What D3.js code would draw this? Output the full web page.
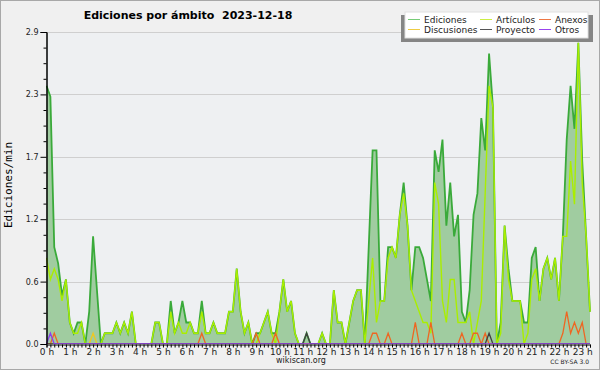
<!DOCTYPE html>
<html>
<head>
<meta charset="utf-8">
<script src="https://cdn.jsdelivr.net/npm/d3@7"></script>
<style>
  body { margin: 0; background: #f0f0f0; }
  svg { display: block; font-family: "DejaVu Sans", sans-serif; }
</style>
</head>
<body>
<svg width="600" height="370"></svg>
<script>
// edits per minute, one value every 10 minutes (00:00 .. 23:20)
var ediciones = [
  2.4, 2.3, 0.9, 0.75, 0.45, 0.6, 0.2, 0.1, 0.2, 0.2,
  0, 0.3, 1.0, 0.5, 0, 0.1, 0.1, 0.1, 0.2, 0.1,
  0.2, 0.1, 0.3, 0, 0, 0, 0, 0, 0.2, 0.2,
  0, 0, 0.4, 0.1, 0.2, 0.4, 0.2, 0.2, 0.1, 0.1,
  0.4, 0.1, 0.1, 0.2, 0.1, 0.1, 0.1, 0.3, 0.3, 0.7,
  0.3, 0.1, 0.2, 0, 0.1, 0.1, 0.2, 0.3, 0.1, 0.1,
  0.3, 0.6, 0.3, 0.4, 0.1, 0, 0, 0.1, 0, 0,
  0, 0.1, 0, 0, 0.5, 0.2, 0.2, 0, 0.2, 0.4,
  0.5, 0.5, 0, 0.9, 1.8, 1.8, 0.4, 0.4, 0.9, 0.9,
  0.8, 1.2, 1.5, 1.1, 0.5, 0.9, 0.9, 0.8, 0.6, 0.4,
  1.8, 1.6, 1.9, 1.1, 1.5, 1.0, 1.2, 0.3, 0.2, 0.5,
  1.2, 1.4, 2.1, 1.8, 2.7, 2.2, 0, 0.2, 1.1, 0.7,
  0.4, 0.4, 0.4, 0.2, 0.2, 0.8, 0.9, 0.4, 0.7, 0.8,
  0.6, 0.8, 0.4, 1.0, 1.9, 2.4, 2.0, 2.8, 1.7, 1.0,
  0.3
];
var articulos = [
  0.8, 0.6, 0.7, 0.6, 0.4, 0.6, 0.2, 0.1, 0.1, 0.2,
  0, 0, 0, 0, 0, 0.1, 0.1, 0.1, 0.2, 0.1,
  0.2, 0.1, 0.3, 0, 0, 0, 0, 0, 0.2, 0.2,
  0, 0, 0.3, 0.1, 0.2, 0.1, 0.1, 0.2, 0.1, 0.1,
  0.3, 0.1, 0.1, 0.2, 0.1, 0.1, 0.1, 0.3, 0.3, 0.7,
  0.3, 0.1, 0.2, 0, 0, 0.1, 0.2, 0.3, 0.1, 0,
  0.3, 0.6, 0.3, 0.4, 0.1, 0, 0, 0, 0, 0,
  0, 0.1, 0, 0, 0.5, 0.2, 0.2, 0, 0.2, 0.4,
  0.5, 0.5, 0, 0.4, 0.8, 0.2, 0.4, 0.4, 0.8, 0.9,
  0.8, 1.2, 1.4, 1.1, 0.5, 0.4, 0.3, 0.2, 0.2, 0.1,
  1.5, 1.3, 0.4, 0.2, 0.6, 0.6, 0.2, 0.2, 0.2, 0.3,
  0, 0.2, 0.4, 1.4, 2.4, 2.2, 0, 0.1, 1.1, 0.6,
  0.4, 0.4, 0.4, 0, 0.1, 0.6, 0.7, 0.4, 0.7, 0.8,
  0.6, 0.8, 0.4, 1.0, 1.0, 1.7, 1.3, 2.8, 1.5, 1.0,
  0.3
];
// small series: only the non-zero slots [index, value]
var anexos = [[2, 0.1], [40, 0.1], [54, 0.1], [59, 0.1], [84, 0.1], [85, 0.1], [88, 0.1],
  [95, 0.2], [99, 0.2], [107, 0.1], [110, 0.1], [111, 0.1], [113, 0.1],
  [133, 0.1], [134, 0.3], [135, 0.1], [136, 0.2], [137, 0.1], [138, 0.2]];
var discusiones = [[12, 0.1]];
var proyecto = [[67, 0.1], [114, 0.1]];
var otros = [[1, 0.1]];

var yTicks = [0, 0.58, 1.16, 1.74, 2.32, 2.9];
var yTickLabels = ['0.0', '0.6', '1.2', '1.7', '2.3', '2.9'];
var hourLabels = d3.range(24).map(function(h) { return h + ' h'; });

var N = ediciones.length;

var expand = function(pairs) {
  var arr = d3.range(N).map(function() { return 0; });
  pairs.forEach(function(p) { arr[p[0]] = p[1]; });
  return arr;
};

var svg = d3.select('svg');

svg.append('rect').attr('x', 0.5).attr('y', 0.5).attr('width', 599).attr('height', 369)
  .attr('fill', '#f0f0f0').attr('stroke', '#a8a8a8');

var x = d3.scaleLinear().domain([0, N - 1]).range([46.5, 590]);
var y = d3.scaleLinear().domain([0, 2.9]).range([344, 32]);

svg.append('rect').attr('x', 46).attr('y', 32).attr('width', 544).attr('height', 312)
  .attr('fill', '#eef0f2');

// grid
svg.append('g').selectAll('line').data(yTicks.slice(1)).enter().append('line')
  .attr('x1', 46).attr('x2', 590)
  .attr('y1', function(d) { return Math.round(y(d)) + 0.5; })
  .attr('y2', function(d) { return Math.round(y(d)) + 0.5; })
  .attr('stroke', '#cfcfcf').attr('stroke-width', 1);

svg.append('clipPath').attr('id', 'plot').append('rect')
  .attr('x', 46).attr('y', 20).attr('width', 546).attr('height', 324);

var plot = svg.append('g').attr('clip-path', 'url(#plot)');

var area = d3.area()
  .x(function(d, i) { return x(i); })
  .y0(y(0))
  .y1(function(d) { return y(d); });

var line = d3.line()
  .x(function(d, i) { return x(i); })
  .y(function(d) { return y(d); });

plot.append('path').datum(ediciones).attr('d', area).attr('fill', '#a0cca0');
plot.append('path').datum(ediciones).attr('d', line)
  .attr('fill', 'none').attr('stroke', '#3aaa3a').attr('stroke-width', 1.8);
plot.append('path').datum(articulos).attr('d', line)
  .attr('fill', 'none').attr('stroke', '#aaee00').attr('stroke-width', 1.4);

var small = [
  { data: expand(discusiones), color: '#eec820' },
  { data: expand(anexos), color: '#ee6622' },
  { data: expand(proyecto), color: '#404040' },
  { data: expand(otros), color: '#8a3cf0' }
];
small.forEach(function(s) {
  plot.append('path').datum(s.data).attr('d', line)
    .attr('fill', 'none').attr('stroke', s.color).attr('stroke-width', 1.3);
});

// y axis, major then minor ticks
var yAxis = svg.append('g').attr('transform', 'translate(46.5,0)')
  .call(d3.axisLeft(y).tickValues(yTicks)
    .tickFormat(function(d, i) { return yTickLabels[i]; })
    .tickSize(6).tickPadding(2));
var minor = d3.range(0, 20).map(function(k) { return k * 0.145; }).filter(function(v, k) { return k % 4 !== 0; });
svg.append('g').attr('transform', 'translate(46.5,0)')
  .call(d3.axisLeft(y).tickValues(minor).tickFormat('').tickSize(3));

// x axis: a tick every 10 min, a label every hour
var xAxis = svg.append('g').attr('transform', 'translate(0,344.5)')
  .call(d3.axisBottom(x).tickValues(d3.range(N))
    .tickFormat(function(d) { return d % 6 === 0 ? hourLabels[d / 6] : ''; })
    .tickSize(3).tickPadding(1));

svg.selectAll('.domain').attr('stroke', '#000').attr('stroke-width', 1);
svg.selectAll('.tick line').attr('stroke', '#000');
yAxis.selectAll('text').attr('font-size', 8).attr('fill', '#222').attr('font-family', '"DejaVu Sans"');
xAxis.selectAll('text').attr('font-size', 9).attr('fill', '#222').attr('font-family', '"DejaVu Sans"');

// titles
svg.append('text').attr('x', 188).attr('y', 19).attr('text-anchor', 'middle')
  .style('white-space', 'pre')
  .attr('font-size', 11).attr('font-weight', 'bold').text('Ediciones por ámbito  2023-12-18');

svg.append('text').attr('transform', 'translate(12,185) rotate(-90)').attr('text-anchor', 'middle')
  .attr('font-family', '"DejaVu Sans Mono"').attr('font-size', 11).text('Ediciones/min');

svg.append('text').attr('x', 301).attr('y', 363).attr('text-anchor', 'middle')
  .attr('font-size', 8).attr('fill', '#222').text('wikiscan.org');
svg.append('text').attr('x', 589).attr('y', 364).attr('text-anchor', 'end')
  .attr('font-size', 6).attr('fill', '#222').text('CC BY-SA 3.0');

// legend
var legendItems = [
  { name: 'Ediciones', color: '#77cc77', col: 0, row: 0 },
  { name: 'Artículos', color: '#ccee44', col: 1, row: 0 },
  { name: 'Anexos', color: '#ee7744', col: 2, row: 0 },
  { name: 'Discusiones', color: '#eecc44', col: 0, row: 1 },
  { name: 'Proyecto', color: '#555555', col: 1, row: 1 },
  { name: 'Otros', color: '#9944ee', col: 2, row: 1 }
];
var colX = [408, 480, 539];
var legend = svg.append('g');
legend.append('rect').attr('x', 401).attr('y', 15).attr('width', 192).attr('height', 27).attr('fill', '#858585');
legend.append('rect').attr('x', 405).attr('y', 12).attr('width', 183).attr('height', 26)
  .attr('fill', '#fff').attr('stroke', '#e0e0e0');
var li = legend.selectAll('g.item').data(legendItems).enter().append('g')
  .attr('transform', function(d) { return 'translate(' + colX[d.col] + ',' + (19.5 + d.row * 10) + ')'; });
li.append('line').attr('x1', 0).attr('x2', 12).attr('stroke', function(d) { return d.color; }).attr('stroke-width', 1);
li.append('text').attr('x', 16).attr('y', 3.5).attr('font-size', 9).attr('fill', '#222')
  .text(function(d) { return d.name; });
</script>
</body>
</html>
